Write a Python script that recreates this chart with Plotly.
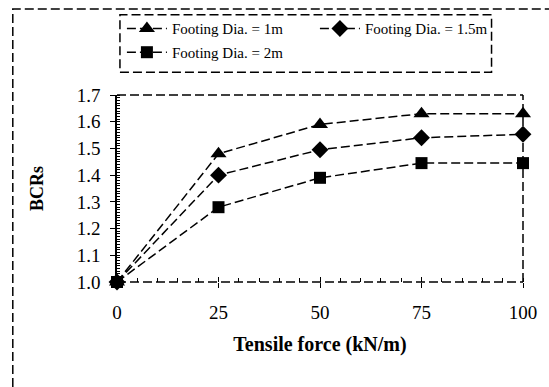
import plotly.graph_objects as go

tensile = [0, 25, 50, 75, 100]
bcr_1m = [1.0, 1.48, 1.59, 1.63, 1.63]
bcr_15m = [1.0, 1.40, 1.495, 1.54, 1.553]
bcr_2m = [1.0, 1.28, 1.39, 1.445, 1.445]
names = ["Footing Dia. = 1m", "Footing Dia. = 1.5m", "Footing Dia. = 2m"]
x_ticks = [0, 25, 50, 75, 100]
y_ticks = [1.0, 1.1, 1.2, 1.3, 1.4, 1.5, 1.6, 1.7]

FONT = "Liberation Serif, Times New Roman, serif"
dash = "9px,4px"

L, R, T, B = 117, 19, 93, 105
W, H = 549, 387
PW, PH = W - L - R, H - T - B


def px_x(p):
    return (p - L) / PW


def px_y(p):
    return (H - B - p) / PH


fig = go.Figure()
for ys, nm, sym, sz, lg in [(bcr_1m, names[0], "triangle-up", 14, "legend"),
                            (bcr_15m, names[1], "diamond", 13, "legend"),
                            (bcr_2m, names[2], "square", 12, "legend2")]:
    fig.add_trace(go.Scatter(
        x=tensile, y=ys, name=nm, mode="lines+markers", legend=lg,
        line=dict(color="black", width=1.5, dash=dash),
        marker=dict(symbol=sym, size=sz, color="black"),
        cliponaxis=False,
    ))

# invisible trace for overlay axis (major inside ticks on x)
fig.add_trace(go.Scatter(x=[0, 100], y=[1.0, 1.0], xaxis="x2", mode="none",
                         showlegend=False, hoverinfo="skip"))

leg_common = dict(orientation="h", xanchor="left", yanchor="middle",
                  font=dict(family=FONT, size=15), entrywidth=138,
                  bgcolor="rgba(0,0,0,0)", itemwidth=40)

fig.update_layout(
    width=W, height=H,
    margin=dict(l=L, r=R, t=T, b=B),
    paper_bgcolor="white", plot_bgcolor="white",
    font=dict(family=FONT, color="black", size=19),
    showlegend=True,
    legend=dict(x=px_x(122), y=px_y(26), **leg_common),
    legend2=dict(x=px_x(122), y=px_y(50), **leg_common),
    xaxis=dict(range=[0, 100], tickvals=x_ticks, ticks="outside", ticklen=5,
               tickwidth=1.2, tickcolor="black", showline=False, showgrid=False,
               zeroline=False, ticklabelstandoff=8,
               minor=dict(dtick=5, ticks="inside", ticklen=4, tickcolor="black", tickwidth=1.2),
               title=dict(text="<b>Tensile force (kN/m)</b>", standoff=15,
                          font=dict(size=20))),
    xaxis2=dict(range=[0, 100], overlaying="x", side="bottom", tickvals=x_ticks,
                ticks="inside", ticklen=5, tickwidth=1.2, tickcolor="black",
                showticklabels=False, showline=False, showgrid=False, zeroline=False),
    yaxis=dict(range=[1.0, 1.7], tickvals=y_ticks, ticktext=[f"{v:.1f}" for v in y_ticks],
               ticks="outside", ticklen=5, tickwidth=1.2, tickcolor="black",
               showline=True, linecolor="black", linewidth=1.5, showgrid=False,
               zeroline=False, ticklabelstandoff=6,
               minor=dict(dtick=0.01, ticks="inside", ticklen=3, tickcolor="black", tickwidth=1),
               title=dict(text="<b>BCRs</b>", standoff=28, font=dict(size=18))),
)

# dashed frame lines (top, right, bottom)
for x0, y0, x1, y1 in [(0, 1, 1, 1), (1, 0, 1, 1), (0, 0, 1, 0)]:
    fig.add_shape(type="line", xref="paper", yref="paper", x0=x0, y0=y0, x1=x1, y1=y1,
                  line=dict(color="black", width=1.5, dash=dash), layer="above")

# outer dashed border
fig.add_shape(type="rect", xref="paper", yref="paper",
              x0=px_x(11), x1=px_x(620), y0=px_y(420), y1=px_y(6),
              line=dict(color="black", width=1.5, dash=dash), layer="above")

# legend dashed box
fig.add_shape(type="rect", xref="paper", yref="paper",
              x0=px_x(120), x1=px_x(498), y0=px_y(70), y1=px_y(12),
              line=dict(color="black", width=1.5, dash=dash), layer="above")

fig.write_html("out.html")
